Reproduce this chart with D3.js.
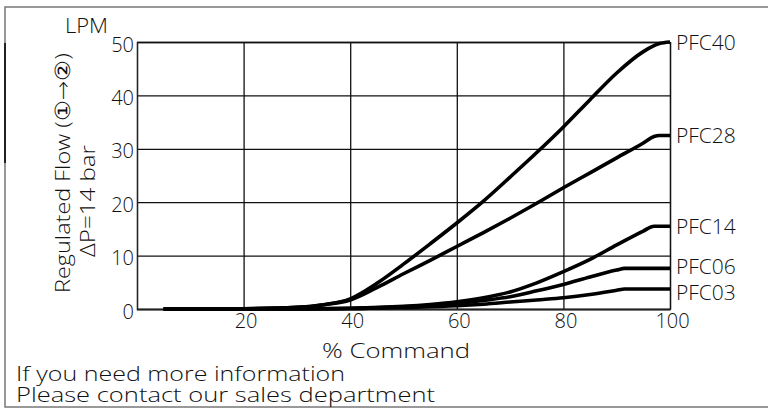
<!DOCTYPE html>
<html><head><meta charset="utf-8">
<script src="https://cdn.jsdelivr.net/npm/d3@7"></script>
<style>
html,body{margin:0;padding:0;background:#fff;}
text{font-family:"Open Sans","DejaVu Sans",sans-serif;font-weight:300;fill:#111;}
</style></head>
<body>
<svg id="c" width="768" height="408"></svg>
<script>
// ---- data ----
const xTicks = [20, 40, 60, 80, 100];
const yTicks = [0, 10, 20, 30, 40, 50];
const seriesNames = ["PFC40", "PFC28", "PFC14", "PFC06", "PFC03"];
const pfc40 = [[5,0],[20,0.05],[30,0.3],[35,0.8],[40,1.9],[45,4.8],[50,8.4],[55,12.2],[60,16.1],[65,20.2],[70,24.7],[75,29.3],[80,34.1],[85,39.2],[90,44.2],[95,48.2],[98,49.7],[100,50]];
const pfc28 = [[5,0],[20,0.05],[30,0.3],[35,0.8],[40,1.7],[45,4.0],[50,6.6],[55,9.1],[60,11.7],[65,14.3],[70,17],[75,19.8],[80,22.7],[85,25.5],[90,28.3],[95,31.1],[97,32.3],[98,32.5],[100,32.5]];
const pfc14 = [[5,0],[30,0.05],[40,0.15],[50,0.5],[55,0.85],[60,1.35],[65,2.1],[70,3.2],[75,4.9],[80,7],[85,9.3],[90,12],[95,14.6],[97,15.5],[100,15.5]];
const pfc06 = [[5,0],[30,0.03],[40,0.1],[50,0.4],[55,0.65],[60,1.0],[65,1.6],[70,2.3],[75,3.4],[80,4.6],[85,6],[90,7.3],[91.5,7.6],[100,7.6]];
const pfc03 = [[5,0],[30,0.02],[40,0.08],[50,0.3],[60,0.6],[65,0.9],[70,1.3],[75,1.7],[80,2.1],[85,2.7],[90,3.5],[91.5,3.75],[100,3.75]];
const seriesData = [pfc40, pfc28, pfc14, pfc06, pfc03];

// ---- layout ----
const svg = d3.select("#c");
const x = d3.scaleLinear().domain([0, 100]).range([137, 670]);
const y = d3.scaleLinear().domain([0, 50]).range([309, 42]);

// outer frame
svg.append("rect").attr("x", 5).attr("y", 7).attr("width", 775).attr("height", 400)
  .attr("fill", "none").attr("stroke", "#777").attr("stroke-width", 1.5);
svg.append("line").attr("x1", 5).attr("x2", 5).attr("y1", 43).attr("y2", 163)
  .attr("stroke", "#222").attr("stroke-width", 2);

// y axis with grid
const gy = svg.append("g").attr("transform", `translate(${x(0)},0)`)
  .call(d3.axisLeft(y).tickValues(yTicks).tickSize(-(x(100) - x(0))).tickPadding(3).tickFormat(d3.format("d")));
gy.select(".domain").attr("stroke", "#222").attr("stroke-width", 1.3);
gy.selectAll(".tick line").attr("stroke", "#111").attr("stroke-width", 1.3);
gy.selectAll(".tick text").attr("font-size", 20).attr("font-family", null).attr("fill", "#111").attr("dy", "0.45em");

// x axis with grid
const gx = svg.append("g").attr("transform", `translate(0,${y(0)})`)
  .call(d3.axisBottom(x).tickValues(xTicks).tickSize(-(y(0) - y(50))).tickPadding(5).tickFormat(d3.format("d")));
gx.select(".domain").attr("stroke", "#222").attr("stroke-width", 1.3);
gx.selectAll(".tick line").attr("stroke", "#111").attr("stroke-width", 1.3);
gx.selectAll(".tick text").attr("font-size", 20).attr("font-family", null).attr("fill", "#111").attr("dx", 2);

// curves
const line = d3.line().x(d => x(d[0])).y(d => y(d[1])).curve(d3.curveMonotoneX);
svg.append("g").selectAll("path").data(seriesData).join("path")
  .attr("d", line).attr("fill", "none").attr("stroke", "#000").attr("stroke-width", 3.6)
  .attr("stroke-linejoin", "round");

// series labels: placed at each curve's end, pushed apart when too close
const labelY = seriesData.map(s => y(s[s.length - 1][1]));
const minGap = 26;
for (let k = 0; k < 20; k++) {
  for (let i = 0; i < labelY.length - 1; i++) {
    const gap = labelY[i + 1] - labelY[i];
    if (gap < minGap) { const p = (minGap - gap) / 2; labelY[i] -= p; labelY[i + 1] += p; }
  }
}
svg.append("g").selectAll("text").data(seriesNames).join("text")
  .attr("x", x(100) + 6)
  .attr("y", (d, i) => labelY[i])
  .attr("dy", "0.38em")
  .attr("font-size", 21)
  .text(d => d);

// axis titles
svg.append("text").attr("x", 65).attr("y", 33).attr("font-size", 20)
  .attr("textLength", 43).attr("lengthAdjust", "spacingAndGlyphs").text("LPM");
svg.append("text").attr("x", 396).attr("y", 358).attr("text-anchor", "middle")
  .attr("font-size", 21).attr("textLength", 148).attr("lengthAdjust", "spacingAndGlyphs").text("% Command");
svg.append("text").attr("transform", "translate(70,173) rotate(-90)").attr("text-anchor", "middle")
  .attr("font-size", 21).attr("textLength", 240).attr("lengthAdjust", "spacingAndGlyphs").text("Regulated Flow (\u2460\u2192\u2461)");
svg.append("text").attr("transform", "translate(95,201) rotate(-90)").attr("text-anchor", "middle")
  .attr("font-size", 21).attr("textLength", 112).attr("lengthAdjust", "spacingAndGlyphs").text("\u0394P=14 bar");

// footer
svg.append("text").attr("x", 16).attr("y", 381).attr("font-size", 21)
  .attr("textLength", 329).attr("lengthAdjust", "spacingAndGlyphs").text("If you need more information");
svg.append("text").attr("x", 16).attr("y", 402).attr("font-size", 21)
  .attr("textLength", 419).attr("lengthAdjust", "spacingAndGlyphs").text("Please contact our sales department");
</script>
</body></html>
